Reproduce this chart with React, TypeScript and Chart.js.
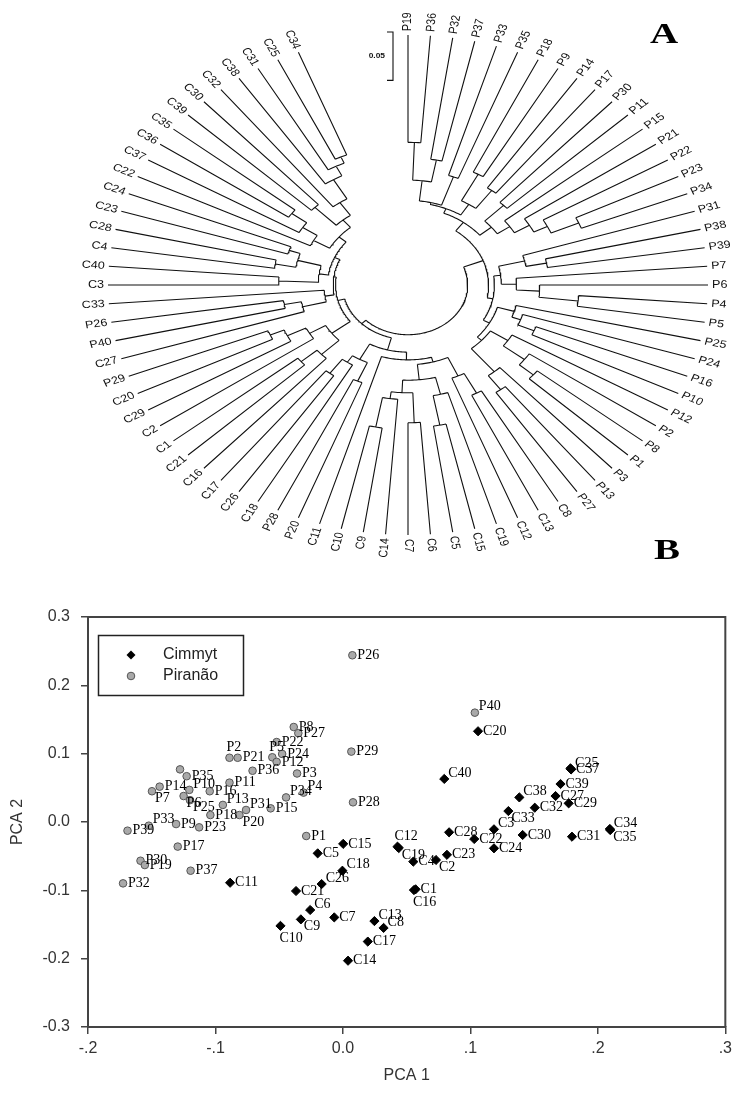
import React, { useEffect, useRef } from 'react';
import { Chart, registerables } from 'chart.js';

Chart.register(...registerables);

/* ================= Panel A : radial dendrogram ================= */
// Node = [height (genetic distance), ...children]; leaves are genotype names.
const CLADE_P1 = [0.171, [0.150, [0.111, 'P19', 'P36'], [0.127, 'P32', 'P37']], [0.140, 'P33', 'P35']];
const CLADE_P2 = [0.160, [0.129, 'P18', 'P9'], [0.137, 'P14', 'P17']];
const CLADE_P3 = [0.165, [0.142, 'P30', 'P11'], [0.152, 'P15', [0.137, 'P21', [0.124, 'P22', [0.098, 'P23', 'P34']]]]];
const CLADE_P4 = [0.178, [0.155, 'P31', [0.137, 'P38', 'P39']], [0.165, 'P7', [0.145, 'P6', [0.111, 'P4', 'P5']]]];
const CLADE_P5 = [0.178, [0.163, 'P25', [0.155, 'P24', [0.140, 'P16', 'P10']]], [0.173, [0.155, 'P12', [0.132, 'P2', [0.116, 'P8', 'P1']]], [0.142, 'P3', [0.124, 'P13', 'P27']]]];
const CLADE_C1 = [0.181, [0.176, [0.155, [0.132, 'C8', 'C13'], 'C12'], [0.160, [0.142, 'C19', [0.111, 'C15', 'C5']], [0.147, [0.116, 'C6', 'C7'], [0.140, 'C14', [0.109, 'C9', 'C10']]]]], 'C11'];
const CLADE_C2 = [0.171, [0.150, 'P20', 'P28'], [0.163, 'C18', [0.145, 'C26', 'C17']]];
const CLADE_C3 = [0.176, [0.155, 'C16', [0.137, 'C21', 'C1']], [0.160, 'C2', [0.142, 'C29', [0.129, 'C20', 'P29']]]];
const CLADE_C4 = [0.186, [0.165, 'C27', [0.150, 'P40', 'P26']], 'C33'];
const CLADE_C5 = [0.181, [0.147, 'C3', 'C40'], [0.160, [0.142, 'C4', 'C28'], [0.150, 'C23', 'C24']]];
const CLADE_C6 = [0.181, [0.165, 'C22', [0.150, 'C37', [0.134, 'C36', 'C35']]], [0.171, [0.145, 'C39', 'C30'], [0.155, 'C32', [0.132, 'C38', [0.121, 'C31', [0.114, 'C25', 'C34']]]]]];
const TREE = [0.207,
  [0.189, [0.178, [0.173, CLADE_P1, CLADE_P2], CLADE_P3], [0.184, CLADE_P4, CLADE_P5]],
  [0.202, [0.189, CLADE_C1, CLADE_C2], [0.196, CLADE_C3, [0.194, CLADE_C4, [0.189, CLADE_C5, CLADE_C6]]]],
];
const SCALE_BAR_VALUE = 0.05;
const SCALE_BAR_LABEL = '0.05';

// drawing constants
const LEAF_SLOTS = 84; // 80 leaves + gap at the top
const DIST_TO_RADIUS = 3.87; // normalised radius per unit of distance
const GAP = { x: NaN, y: NaN };

function layoutTree(root: any) {
  const leaves: { name: string; angle: number }[] = [];
  const pts: { x: number; y: number }[] = [];
  const step = (2 * Math.PI) / LEAF_SLOTS;
  const P = (r: number, a: number) => ({ x: r * Math.sin(a), y: r * Math.cos(a) });
  function walk(node: any): { angle: number; r: number } {
    if (typeof node === 'string') {
      const a = leaves.length * step;
      leaves.push({ name: node, angle: a });
      return { angle: a, r: 1 };
    }
    const [h, ...kids] = node;
    const r = 1 - h * DIST_TO_RADIUS;
    const res = kids.map(walk);
    const a0 = res[0].angle;
    const a1 = res[res.length - 1].angle;
    const n = Math.max(2, Math.ceil(((a1 - a0) * 180) / Math.PI));
    for (let i = 0; i <= n; i++) pts.push(P(r, a0 + ((a1 - a0) * i) / n));
    pts.push(GAP);
    for (const c of res) {
      pts.push(P(r, c.angle), P(c.r, c.angle), GAP);
    }
    return { angle: (a0 + a1) / 2, r };
  }
  walk(root);
  return { leaves, pts };
}
const TREE_LAYOUT = layoutTree(TREE);

const BAR_X = -0.05;
const BAR_TOP = 1.012;
const BAR_LEN = SCALE_BAR_VALUE * DIST_TO_RADIUS;
const SCALE_BAR_PTS = [
  { x: BAR_X - 0.02, y: BAR_TOP }, { x: BAR_X, y: BAR_TOP }, { x: BAR_X, y: BAR_TOP - BAR_LEN }, { x: BAR_X - 0.02, y: BAR_TOP - BAR_LEN },
];

/* ================= Panel B : PCA ================= */
const CIMMYT_NAMES = ['C1','C2','C3','C4','C5','C6','C7','C8','C9','C10','C11','C12','C13','C14','C15','C16','C17','C18','C19','C20','C21','C22','C23','C24','C25','C26','C27','C28','C29','C30','C31','C32','C33','C34','C35','C36','C37','C38','C39','C40'];
const CIMMYT_PC1 = [0.057,0.073,0.1185,0.0552,-0.0198,-0.0257,-0.0068,0.0319,-0.033,-0.049,-0.0885,0.0428,0.0247,0.004,0.0002,0.0557,0.0195,-0.0004,0.0438,0.106,-0.0368,0.103,0.0816,0.1185,0.179,-0.0167,0.1668,0.0833,0.1771,0.141,0.1797,0.1505,0.1298,0.2094,0.2097,0.1785,0.179,0.1384,0.1707,0.0795];
const CIMMYT_PC2 = [-0.0985,-0.0556,-0.0107,-0.058,-0.0459,-0.1288,-0.1396,-0.155,-0.1425,-0.152,-0.0889,-0.0361,-0.145,-0.203,-0.032,-0.0996,-0.175,-0.0713,-0.0381,0.1328,-0.101,-0.0249,-0.048,-0.0385,0.077,-0.0908,0.038,-0.0151,0.0273,-0.019,-0.0215,0.0209,0.016,-0.0102,-0.0118,0.0785,0.077,0.036,0.0556,0.063];

const PIRANAO_NAMES = ['P8','P27','P22','P5','P24','P2','P21','P12','P36','P3','P34','P4','P35','P38','P14','P7','P10','P16','P6','P25','P11','P13','P31','P18','P15','P20','P33','P39','P9','P23','P17','P30','P19','P37','P32','P1','P26','P40','P29','P28'];
const PIRANAO_PC1 = [-0.0386,-0.035,-0.052,-0.0554,-0.0477,-0.089,-0.0826,-0.052,-0.0709,-0.036,-0.0446,-0.0309,-0.1226,-0.1278,-0.1438,-0.1498,-0.1205,-0.1045,-0.125,-0.12,-0.089,-0.0942,-0.076,-0.104,-0.0567,-0.0812,-0.1523,-0.169,-0.1309,-0.1128,-0.1296,-0.1588,-0.1554,-0.1195,-0.1725,-0.0288,0.0074,0.1035,0.0066,0.0079];
const PIRANAO_PC2 = [0.139,0.13,0.117,0.0947,0.0996,0.094,0.094,0.088,0.075,0.071,0.036,0.043,0.067,0.077,0.0517,0.045,0.047,0.045,0.038,0.032,0.0576,0.025,0.0176,0.0102,0.02,0.0102,-0.0054,-0.0127,-0.003,-0.0078,-0.036,-0.0567,-0.063,-0.0713,-0.0898,-0.0205,0.244,0.16,0.103,0.0288];

const X_TICKS = [-0.2, -0.1, 0, 0.1, 0.2, 0.3];
const X_TICK_LABELS = ['-.2', '-.1', '0.0', '.1', '.2', '.3'];
const Y_TICKS = [-0.3, -0.2, -0.1, 0, 0.1, 0.2, 0.3];
const Y_TICK_LABELS = ['-0.3', '-0.2', '-0.1', '0.0', '0.1', '0.2', '0.3'];
const SERIES_NAMES = ['Cimmyt', 'Piranão'];

// label placement (style only)
const HIDDEN_LABELS = ['P38', 'C36'];
const LABEL_PLACE: Record<string, string> = {
  P5: 'a', P2: 'a', P34: 'ar', P4: 'ar', P7: 'br', P10: 'ar', P6: 'br', P25: 'br', P13: 'ar', P31: 'ar', P20: 'br', P33: 'ar', P40: 'ar',
  C16: 'b', C2: 'br', C3: 'ar', C6: 'ar', C8: 'ar', C9: 'br', C10: 'b', C12: 'a', C13: 'ar', C18: 'ar', C19: 'br', C25: 'ar', C26: 'ar',
  C33: 'br', C34: 'ar', C35: 'br', C38: 'ar', C40: 'ar',
};
const OFFS: Record<string, [number, number]> = { r: [5, 0], ar: [4, -6], br: [3, 7], a: [-3, -10], b: [-1, 12] };

const SANS = '"Liberation Sans", Arial, sans-serif';
const SERIF = '"Liberation Serif", "Times New Roman", serif';

const treeLabelPlugin = {
  id: 'treeLabels',
  afterDatasetsDraw(chart: any) {
    const { ctx } = chart;
    const xs = chart.scales.x;
    const ys = chart.scales.y;
    const cx = xs.getPixelForValue(0);
    const cy = ys.getPixelForValue(0);
    const SX = (xs.getPixelForValue(1) - cx) / (cy - ys.getPixelForValue(1));
    ctx.save();
    ctx.fillStyle = '#111';
    ctx.font = `10.5px ${SANS}`;
    ctx.textBaseline = 'middle';
    for (const leaf of TREE_LAYOUT.leaves) {
      const px = xs.getPixelForValue(Math.sin(leaf.angle));
      const py = ys.getPixelForValue(Math.cos(leaf.angle));
      const dx = px - cx;
      const dy = py - cy;
      const len = Math.hypot(dx, dy);
      const ax = px + (dx / len) * 4;
      const ay = py + (dy / len) * 4;
      const angU = Math.atan2(dy, dx / SX);
      const right = dx >= -0.5;
      ctx.save();
      ctx.translate(ax, ay);
      ctx.scale(SX, 1);
      ctx.rotate(right ? angU : angU + Math.PI);
      ctx.textAlign = right ? 'left' : 'right';
      ctx.fillText(leaf.name, 0, 0);
      ctx.restore();
    }
    // scale bar label
    const bx = xs.getPixelForValue(BAR_X - 0.02);
    const by = ys.getPixelForValue(BAR_TOP - BAR_LEN / 2);
    ctx.save();
    ctx.translate(bx - 2, by);
    ctx.scale(SX, 1);
    ctx.font = `bold 7px ${SANS}`;
    ctx.textAlign = 'right';
    ctx.fillText(SCALE_BAR_LABEL, 0, 0);
    ctx.restore();
    // panel letters
    const letter = (t: string, x: number, y: number) => {
      ctx.save();
      ctx.translate(x, y);
      ctx.scale(1.3, 1);
      ctx.font = `bold 30px ${SERIF}`;
      ctx.fillStyle = '#000';
      ctx.textAlign = 'center';
      ctx.textBaseline = 'middle';
      ctx.fillText(t, 0, 0);
      ctx.restore();
    };
    letter('A', 664, 35);
    letter('B', 667, 551);
    ctx.restore();
  },
};

const NAME_LISTS = [CIMMYT_NAMES, PIRANAO_NAMES];

const pcaPlugin = {
  id: 'pcaExtras',
  afterDatasetsDraw(chart: any) {
    const { ctx, chartArea } = chart;
    ctx.save();
    // frame top / right
    ctx.strokeStyle = '#444';
    ctx.lineWidth = 2;
    ctx.beginPath();
    ctx.moveTo(chartArea.left, chartArea.top);
    ctx.lineTo(chartArea.right, chartArea.top);
    ctx.lineTo(chartArea.right, chartArea.bottom);
    ctx.stroke();
    // point labels
    ctx.fillStyle = '#000';
    ctx.font = `14px ${SERIF}`;
    ctx.textBaseline = 'middle';
    ctx.textAlign = 'left';
    chart.data.datasets.forEach((_ds: any, di: number) => {
      const meta = chart.getDatasetMeta(di);
      const names = NAME_LISTS[di];
      meta.data.forEach((el: any, i: number) => {
        const name = names[i];
        if (HIDDEN_LABELS.includes(name)) return;
        const [ox, oy] = OFFS[LABEL_PLACE[name] || 'r'];
        ctx.fillText(name, el.x + ox, el.y + oy);
      });
    });
    // legend
    const lx = chartArea.left + 10;
    const ly = chartArea.top + 18;
    ctx.strokeStyle = '#222';
    ctx.lineWidth = 1.5;
    ctx.strokeRect(lx + 0.5, ly + 0.5, 145, 60);
    const mx = lx + 33;
    const y1 = ly + 20;
    const y2 = ly + 41;
    ctx.fillStyle = '#000';
    ctx.beginPath();
    ctx.moveTo(mx, y1 - 4.5);
    ctx.lineTo(mx + 4.5, y1);
    ctx.lineTo(mx, y1 + 4.5);
    ctx.lineTo(mx - 4.5, y1);
    ctx.closePath();
    ctx.fill();
    ctx.beginPath();
    ctx.arc(mx, y2, 3.8, 0, Math.PI * 2);
    ctx.fillStyle = '#a9a9a9';
    ctx.fill();
    ctx.strokeStyle = '#555';
    ctx.lineWidth = 1;
    ctx.stroke();
    ctx.fillStyle = '#222';
    ctx.font = `16px ${SANS}`;
    ctx.fillText(SERIES_NAMES[0], lx + 65, y1);
    ctx.fillText(SERIES_NAMES[1], lx + 65, y2);
    ctx.restore();
  },
};

export default function App() {
  const refA = useRef<HTMLCanvasElement>(null);
  const refB = useRef<HTMLCanvasElement>(null);

  useEffect(() => {
    const chartA = new Chart(refA.current as HTMLCanvasElement, {
      type: 'scatter',
      data: {
        datasets: [
          { data: TREE_LAYOUT.pts, showLine: true, borderColor: '#111', borderWidth: 1.1, pointRadius: 0, pointHoverRadius: 0, spanGaps: false, fill: false } as any,
          { data: SCALE_BAR_PTS, showLine: true, borderColor: '#111', borderWidth: 1.1, pointRadius: 0, pointHoverRadius: 0, spanGaps: false, fill: false } as any,
        ],
      },
      options: {
        animation: false,
        responsive: false,
        devicePixelRatio: 1,
        events: [],
        layout: { padding: 0, autoPadding: false } as any,
        plugins: { legend: { display: false }, tooltip: { enabled: false } },
        scales: {
          x: { type: 'linear', display: false, min: -408 / 300, max: 329 / 300 },
          y: { type: 'linear', display: false, min: -(575 - 285) / 250, max: 285 / 250 },
        },
      },
      plugins: [treeLabelPlugin],
    });

    const tickFont = { family: SANS, size: 16 };
    const chartB = new Chart(refB.current as HTMLCanvasElement, {
      type: 'scatter',
      data: {
        datasets: [
          {
            label: SERIES_NAMES[0],
            data: CIMMYT_PC1.map((v, i) => ({ x: v, y: CIMMYT_PC2[i] })),
            pointStyle: 'rectRot', pointRadius: 4.6, backgroundColor: '#000', borderColor: '#000', borderWidth: 1,
          },
          {
            label: SERIES_NAMES[1],
            data: PIRANAO_PC1.map((v, i) => ({ x: v, y: PIRANAO_PC2[i] })),
            pointStyle: 'circle', pointRadius: 3.8, backgroundColor: '#a9a9a9', borderColor: '#555', borderWidth: 1,
          },
        ],
      },
      options: {
        animation: false,
        responsive: false,
        devicePixelRatio: 1,
        events: [],
        layout: { padding: { left: 0, right: 4, top: 42, bottom: 6 }, autoPadding: false } as any,
        plugins: { legend: { display: false }, tooltip: { enabled: false } },
        scales: {
          x: {
            type: 'linear', min: -0.2, max: 0.3,
            afterBuildTicks: (s: any) => { s.ticks = X_TICKS.map((v) => ({ value: v })); },
            afterFit: (s: any) => { s.height = 60; },
            ticks: { callback: (_v: any, i: number) => X_TICK_LABELS[i], color: '#333', font: tickFont, padding: 5, maxRotation: 0, autoSkip: false },
            grid: { drawOnChartArea: false, drawTicks: true, tickLength: 7, color: '#444', lineWidth: 1.5 },
            border: { display: true, color: '#444', width: 2 },
            title: { display: true, text: 'PCA 1', color: '#333', font: tickFont, padding: { top: 0, bottom: 2 } },
          } as any,
          y: {
            type: 'linear', min: -0.3, max: 0.3,
            afterBuildTicks: (s: any) => { s.ticks = Y_TICKS.map((v) => ({ value: v })); },
            afterFit: (s: any) => { s.width = 88; },
            ticks: { callback: (_v: any, i: number) => Y_TICK_LABELS[i], color: '#333', font: tickFont, padding: 11, autoSkip: false },
            grid: { drawOnChartArea: false, drawTicks: true, tickLength: 7, color: '#444', lineWidth: 1.5 },
            border: { display: true, color: '#444', width: 2 },
            title: { display: true, text: 'PCA 2', color: '#333', font: tickFont, padding: { top: 8, bottom: 0 } },
          } as any,
        },
      },
      plugins: [pcaPlugin],
    });

    return () => {
      chartA.destroy();
      chartB.destroy();
    };
  }, []);

  return (
    <div style={{ position: 'absolute', left: 0, top: 0, width: 737, height: 1093, background: '#fff', overflow: 'hidden' }}>
      <canvas ref={refA} width={737} height={575} style={{ position: 'absolute', left: 0, top: 0 }} />
      <canvas ref={refB} width={737} height={518} style={{ position: 'absolute', left: 0, top: 575 }} />
    </div>
  );
}
